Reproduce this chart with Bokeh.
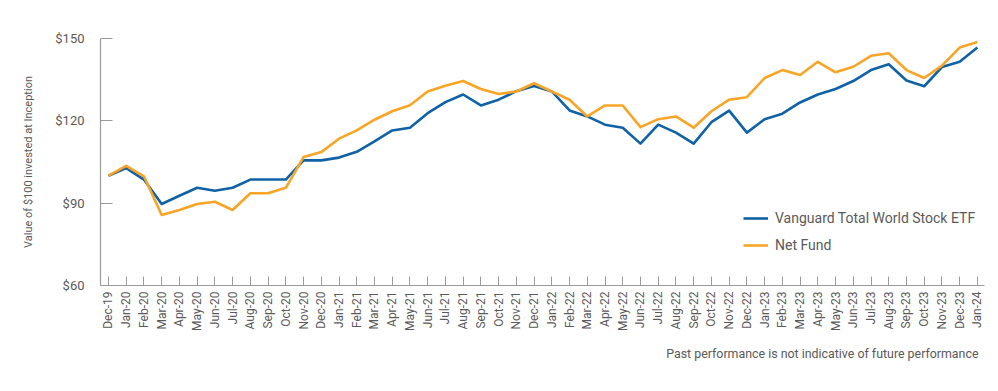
import math
from bokeh.plotting import figure
from bokeh.models import FixedTicker, Legend, LegendItem, Title, Range1d
from bokeh.embed import file_html
from bokeh.resources import INLINE

months = ["Dec-19",
          "Jan-20", "Feb-20", "Mar-20", "Apr-20", "May-20", "Jun-20", "Jul-20", "Aug-20", "Sep-20", "Oct-20", "Nov-20", "Dec-20",
          "Jan-21", "Feb-21", "Mar-21", "Apr-21", "May-21", "Jun-21", "Jul-21", "Aug-21", "Sep-21", "Oct-21", "Nov-21", "Dec-21",
          "Jan-22", "Feb-22", "Mar-22", "Apr-22", "May-22", "Jun-22", "Jul-22", "Aug-22", "Sep-22", "Oct-22", "Nov-22", "Dec-22",
          "Jan-23", "Feb-23", "Mar-23", "Apr-23", "May-23", "Jun-23", "Jul-23", "Aug-23", "Sep-23", "Oct-23", "Nov-23", "Dec-23",
          "Jan-24"]

vanguard = [100.0,
            102.8, 98.6, 89.7, 92.7, 95.6, 94.5, 95.6, 98.6, 98.6, 98.6, 105.6, 105.6,
            106.6, 108.7, 112.5, 116.5, 117.5, 122.8, 126.8, 129.6, 125.6, 127.7, 130.8, 132.7,
            130.7, 123.8, 121.6, 118.6, 117.5, 111.7, 118.6, 115.7, 111.7, 119.5, 123.7, 115.7,
            120.6, 122.6, 126.7, 129.6, 131.6, 134.5, 138.5, 140.6, 134.7, 132.6, 139.6, 141.5,
            146.7]

net_fund = [100.0,
            103.6, 99.8, 85.7, 87.5, 89.7, 90.5, 87.5, 93.6, 93.6, 95.6, 106.8, 108.6,
            113.5, 116.5, 120.4, 123.5, 125.7, 130.7, 132.8, 134.5, 131.6, 129.8, 130.7, 133.7,
            130.7, 127.7, 121.6, 125.6, 125.6, 117.7, 120.6, 121.6, 117.5, 123.5, 127.7, 128.6,
            135.6, 138.5, 136.7, 141.5, 137.7, 139.7, 143.7, 144.6, 138.5, 135.6, 140.1, 146.7,
            148.7]

y_ticks = [60, 90, 120, 150]
y_tick_labels = ["$60", "$90", "$120", "$150"]

series_names = ["Vanguard Total World Stock ETF", "Net Fund"]
footer = "Past performance is not indicative of future performance"

BLUE = "#0f62a5"
ORANGE = "#f8a526"
TEXT = "#5a5a5a"
AXIS = "#9a9a9a"
FONT = "Roboto"

xs = list(range(len(months)))

p = figure(width=990, height=383, output_backend="svg", toolbar_location=None,
           x_range=Range1d(-0.45, 49.4), y_range=Range1d(60, 150),
           min_border_left=100, min_border_right=6, min_border_top=38, min_border_bottom=98)
p.outline_line_color = None
p.xgrid.grid_line_color = None
p.ygrid.grid_line_color = None
p.background_fill_color = "white"
p.border_fill_color = "white"

r1 = p.line(xs, vanguard, line_color=BLUE, line_width=2.6, line_join="round")
r2 = p.line(xs, net_fund, line_color=ORANGE, line_width=2.6, line_join="round")

# x axis
xa = p.xaxis[0]
xa.ticker = FixedTicker(ticks=xs)
xa.major_label_overrides = {i: m for i, m in enumerate(months)}
xa.major_label_orientation = math.pi / 2
xa.major_label_text_font = FONT
xa.major_label_text_font_size = "12px"
xa.major_label_text_color = TEXT
xa.major_label_standoff = 6
xa.major_tick_in = 9
xa.major_tick_out = 0
xa.minor_tick_line_color = None
xa.axis_line_color = AXIS
xa.major_tick_line_color = AXIS
xa.axis_line_width = 1.2

# y axis
ya = p.yaxis[0]
ya.ticker = FixedTicker(ticks=y_ticks)
ya.major_label_overrides = {v: l for v, l in zip(y_ticks, y_tick_labels)}
ya.major_label_text_font = FONT
ya.major_label_text_font_size = "13px"
ya.major_label_text_color = TEXT
ya.major_label_standoff = 16
ya.major_tick_in = 12
ya.major_tick_out = 0
ya.minor_tick_line_color = None
ya.axis_line_color = AXIS
ya.major_tick_line_color = AXIS
ya.axis_line_width = 1.2
ya.axis_label = "Value of $100 invested at Inception"
ya.axis_label_text_font = FONT
ya.axis_label_text_font_size = "11px"
ya.axis_label_text_font_style = "normal"
ya.axis_label_text_color = TEXT
ya.axis_label_standoff = 17

legend = Legend(items=[LegendItem(label=series_names[0], renderers=[r1]),
                       LegendItem(label=series_names[1], renderers=[r2])],
                location=(643, 30))
legend.border_line_color = None
legend.background_fill_alpha = 0
legend.padding = 0
legend.margin = 0
legend.spacing = 7
legend.glyph_width = 25
legend.glyph_height = 20
legend.label_standoff = 7
legend.label_text_font = FONT
legend.label_text_font_size = "14px"
legend.label_text_color = TEXT
p.add_layout(legend)

p.add_layout(Title(text=footer, align="right", offset=6, standoff=20,
                   text_font=FONT, text_font_size="12.4px", text_font_style="normal",
                   text_color=TEXT), "below")

open("out.html", "w").write(file_html(p, INLINE))
